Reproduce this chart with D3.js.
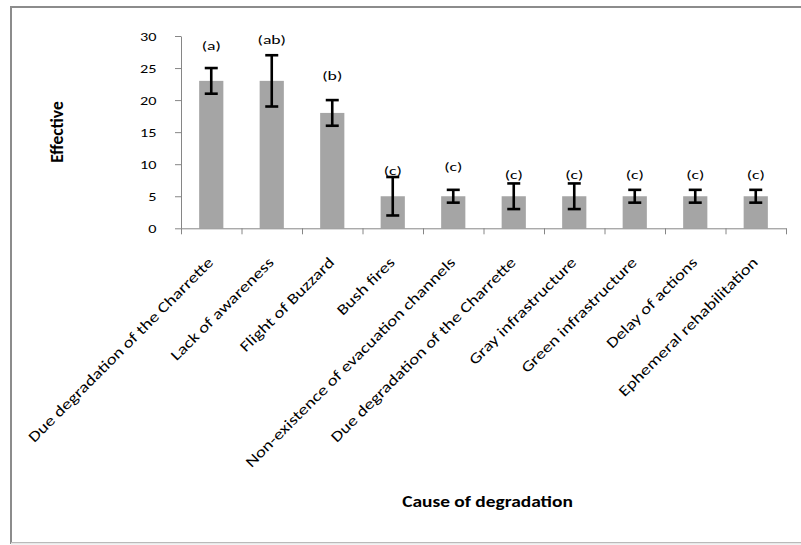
<!DOCTYPE html>
<html>
<head>
<meta charset="utf-8">
<script src="https://cdn.jsdelivr.net/npm/d3@7"></script>
<style>
  html, body { margin: 0; padding: 0; background: #fff; }
  svg { display: block; }
  text { font-family: Carlito, Calibri, Lato, sans-serif; }
</style>
</head>
<body>
<svg id="chart" width="801" height="545"></svg>
<script>
const categories = [
  "Due degradation of the Charrette",
  "Lack of awareness",
  "Flight of Buzzard",
  "Bush fires",
  "Non-existence of evacuation channels",
  "Due degradation of the Charrette ",
  "Gray infrastructure",
  "Green infrastructure",
  "Delay of actions",
  "Ephemeral rehabilitation"
];
const values = [23, 23, 18, 5, 5, 5, 5, 5, 5, 5];
const errLow = [21, 19, 16, 2, 4, 3, 3, 4, 4, 4];
const errHigh = [25, 27, 20, 8, 6, 7, 7, 6, 6, 6];
const groupLabels = ["(a)", "(ab)", "(b)", "(c)", "(c)", "(c)", "(c)", "(c)", "(c)", "(c)"];
const groupLabelAt = [28.5, 29.4, 23.8, 9.1, 9.6, 8.4, 8.4, 8.4, 8.4, 8.4];
const yTicks = [0, 5, 10, 15, 20, 25, 30];

(function () {
const svg = d3.select("#chart");
const FONT = "Carlito, Calibri, Lato, sans-serif";

// outer frame
svg.append("rect")
  .attr("x", 11).attr("y", 7).attr("width", 800).attr("height", 536)
  .attr("fill", "none").attr("stroke", "#8c8c8c").attr("stroke-width", 2);
svg.append("line")
  .attr("x1", 11).attr("x2", 801).attr("y1", 543.5).attr("y2", 543.5)
  .attr("stroke", "#e8e8e8").attr("stroke-width", 2);

const pLeft = 181, pRight = 786, pTop = 36, pBottom = 228.3;

const x = d3.scaleBand().domain(d3.range(categories.length))
  .range([pLeft, pRight]).paddingInner(0.6).paddingOuter(0.3);
const xEdge = d3.scaleLinear().domain([0, categories.length]).range([pLeft, pRight]);
const y = d3.scaleLinear().domain([0, 30]).range([pBottom, pTop]);

// bars
svg.append("g").selectAll("rect").data(values).join("rect")
  .attr("x", (d, i) => x(i))
  .attr("y", d => y(d))
  .attr("width", x.bandwidth())
  .attr("height", d => y(0) - y(d))
  .attr("fill", "#a5a5a5");

// y axis
const kTick = 1.3;
const yAxis = svg.append("g").attr("transform", `translate(${pLeft},0)`)
  .call(d3.axisLeft(y).tickValues(yTicks).tickSize(6).tickPadding(12).tickSizeOuter(0));
yAxis.select(".domain").attr("stroke", "#868686");
yAxis.selectAll(".tick line").attr("stroke", "#868686");
yAxis.selectAll(".tick text").attr("fill", "#000")
  .style("font-size", "12.5px").style("font-family", FONT)
  .attr("x", -24.5 / kTick)
  .attr("transform", `scale(${kTick},1)`);

// x axis
const xAxis = svg.append("g").attr("transform", `translate(0,${pBottom})`)
  .call(d3.axisBottom(xEdge).tickValues(d3.range(categories.length + 1)).tickFormat("").tickSize(6).tickSizeOuter(0));
xAxis.select(".domain").attr("stroke", "#868686");
xAxis.selectAll(".tick line").attr("stroke", "#868686");

// error bars
const eb = svg.append("g").attr("stroke", "#000").attr("stroke-width", 2.6);
const cx = i => x(i) + x.bandwidth() / 2;
values.forEach((v, i) => {
  eb.append("line").attr("x1", cx(i)).attr("x2", cx(i)).attr("y1", y(errLow[i])).attr("y2", y(errHigh[i]));
  eb.append("line").attr("x1", cx(i) - 6.5).attr("x2", cx(i) + 6.5).attr("y1", y(errLow[i])).attr("y2", y(errLow[i]));
  eb.append("line").attr("x1", cx(i) - 6.5).attr("x2", cx(i) + 6.5).attr("y1", y(errHigh[i])).attr("y2", y(errHigh[i]));
});

// group letters
const kLet = 1.36;
svg.append("g").selectAll("text").data(groupLabels).join("text")
  .attr("transform", (d, i) => `translate(${cx(i)},${y(groupLabelAt[i])}) scale(${kLet},1)`)
  .attr("dy", "0.35em")
  .attr("text-anchor", "middle")
  .style("font-size", "13px")
  .text(d => d);

// category labels
const kCat = 1.26;
svg.append("g").selectAll("text").data(categories).join("text")
  .attr("transform", (d, i) => `translate(${cx(i) + 3},${pBottom + 35}) rotate(-45) scale(${kCat},1)`)
  .attr("text-anchor", "end")
  .style("font-size", "15px")
  .text(d => d.trim());

// axis titles
svg.append("text")
  .attr("transform", `translate(63,132) rotate(-90)`)
  .attr("text-anchor", "middle")
  .style("font-size", "17.5px").style("font-weight", "bold")
  .text("Effective");
svg.append("text")
  .attr("transform", `translate(487.5,507) scale(1.27,1)`)
  .attr("text-anchor", "middle")
  .style("font-size", "15.3px").style("font-weight", "bold")
  .text("Cause of degradation");
})();
</script>
</body>
</html>
